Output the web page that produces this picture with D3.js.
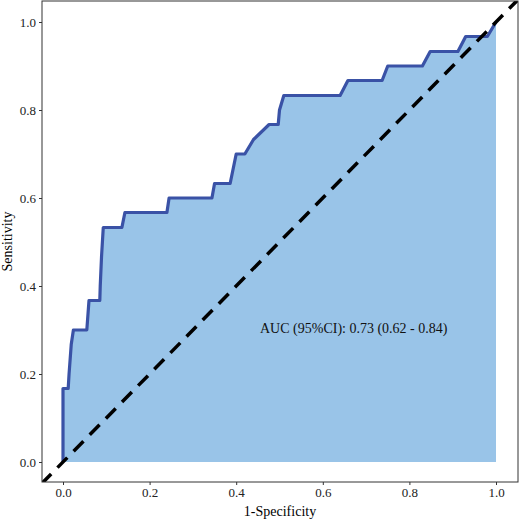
<!DOCTYPE html><html><head><meta charset="utf-8"><script src="https://cdn.jsdelivr.net/npm/d3@7"></script>
<style>body{margin:0;background:#fff}</style></head><body><svg width="520" height="520"></svg><script>
const fpr =[0,0,0.012,0.014,0.019,0.024,0.055,0.06,0.085,0.086,0.089,0.093,0.136,0.143,0.24,0.245,0.344,0.35,0.386,0.40,0.42,0.44,0.476,0.497,0.50,0.51,0.64,0.658,0.737,0.75,0.83,0.848,0.912,0.93,0.98,1.0];
const tpr =[0,0.167,0.167,0.2,0.267,0.3,0.3,0.367,0.367,0.4,0.467,0.533,0.533,0.567,0.567,0.6,0.6,0.633,0.633,0.7,0.7,0.733,0.767,0.767,0.8,0.833,0.833,0.867,0.867,0.9,0.9,0.933,0.933,0.967,0.967,1.0];
const ticks=[0,0.2,0.4,0.6,0.8,1.0];
const aucText="AUC (95%CI): 0.73 (0.62 - 0.84)";
const svg=d3.select("svg");
const x=d3.scaleLinear().domain([0,1]).range([63,496]);
const y=d3.scaleLinear().domain([0,1]).range([462,22]);
const L=42,R=518,T=1,B=482;
const font="Liberation Serif, serif";
const pts=fpr.map((f,i)=>[f,tpr[i]]);
svg.append("defs").append("clipPath").attr("id","c").append("rect").attr("x",L).attr("y",T).attr("width",R-L).attr("height",B-T);
const g=svg.append("g").attr("clip-path","url(#c)");
g.append("path").datum(pts).attr("fill","#99c4e8").attr("d",d3.area().x(d=>x(d[0])).y0(y(0)).y1(d=>y(d[1])));
g.append("path").datum(pts).attr("fill","none").attr("stroke","#3a52a6").attr("stroke-width",3.2).attr("stroke-linejoin","round").attr("d",d3.line().x(d=>x(d[0])).y(d=>y(d[1])));
g.append("line").attr("x1",x(-0.05)).attr("y1",y(-0.05)).attr("x2",x(1.06)).attr("y2",y(1.06)).attr("stroke","#000").attr("stroke-width",3.5).attr("stroke-dasharray","14,9");
svg.append("rect").attr("x",L).attr("y",T).attr("width",R-L).attr("height",B-T).attr("fill","none").attr("stroke","#333").attr("stroke-width",1);
const xa=svg.append("g").attr("transform",`translate(0,${B})`).call(d3.axisBottom(x).tickValues(ticks).tickFormat(d3.format(".1f")).tickSize(3));
const ya=svg.append("g").attr("transform",`translate(${L},0)`).call(d3.axisLeft(y).tickValues(ticks).tickFormat(d3.format(".1f")).tickSize(3));
[xa,ya].forEach(a=>{a.select(".domain").remove();a.selectAll("text").attr("font-family",font).attr("font-size",13).attr("fill","#222");a.selectAll("line").attr("stroke","#333");});
svg.append("text").attr("x",(L+R)/2).attr("y",516).attr("text-anchor","middle").attr("font-family",font).attr("font-size",14).text("1-Specificity");
svg.append("text").attr("transform",`translate(12,${(T+B)/2}) rotate(-90)`).attr("text-anchor","middle").attr("font-family",font).attr("font-size",14).text("Sensitivity");
svg.append("text").attr("x",x(0.455)).attr("y",y(0.3)+3).attr("font-family",font).attr("font-size",14).attr("fill","#111").text(aucText);
</script></body></html>
